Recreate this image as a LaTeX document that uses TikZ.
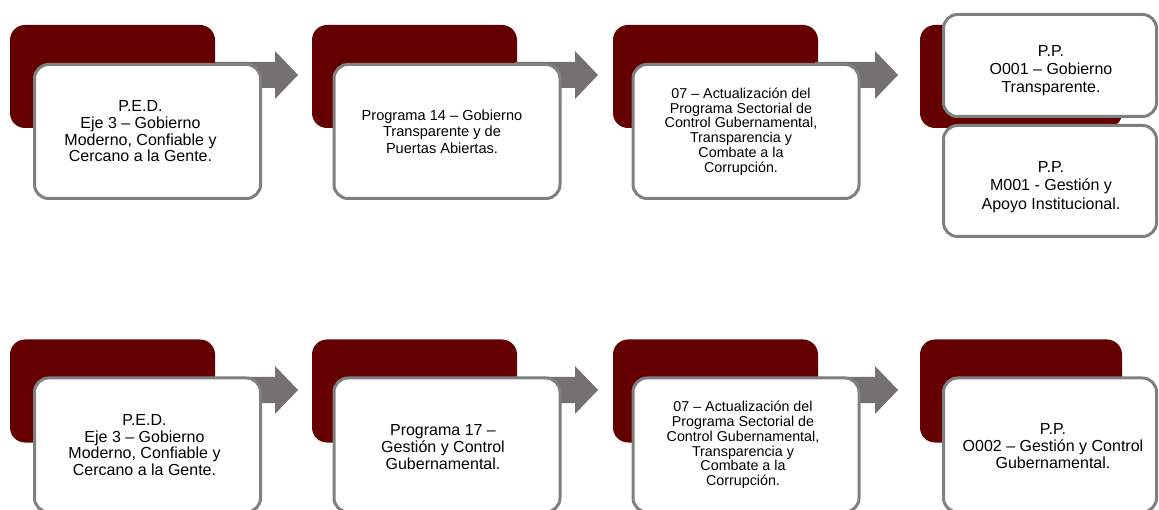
\documentclass[tikz,border=0pt]{standalone}
\usepackage{fontspec}
\setmainfont{Liberation Sans}
\definecolor{maroonbox}{HTML}{640000}
\definecolor{cardborder}{HTML}{808080}
\definecolor{arrowgrey}{HTML}{767171}
\begin{document}
\begin{tikzpicture}[x=1pt,y=-1pt,
  backbox/.style={fill=maroonbox, rounded corners=15pt, inner sep=0pt,
    minimum width=205pt, minimum height=103pt},
  card/.style={draw=cardborder, line width=3pt, fill=white, rounded corners=14pt,
    inner sep=0pt, minimum width=226pt, minimum height=134pt},
  txt/.style={align=center, inner sep=0pt},
  fa/.style={txt, font=\fontsize{16}{16.7}\selectfont},
  fb/.style={txt, font=\fontsize{14.6}{16.3}\selectfont},
  fc/.style={txt, font=\fontsize{14.3}{14.8}\selectfont},
  fd/.style={txt, font=\fontsize{16}{18.3}\selectfont},
  blockarrow/.pic={\fill[arrowgrey] (-83,-13) -- (-23,-13) -- (-23,-24) -- (0,0)
    -- (-23,24) -- (-23,13) -- (-83,13) -- cycle;}]
\useasboundingbox (0,0) rectangle (1159,510);
\clip (0,0) rectangle (1159,510);

% ---------- top row ----------
\node[backbox] (tb1) at (112.5,76.5) {};
\node[backbox] (tb2) at (414.5,76.5) {};
\node[backbox] (tb3) at (715.5,76.5) {};
\node[backbox, minimum width=202pt] (tb4) at (1021,76.5) {};
\pic at (298,75) {blockarrow};
\pic at (598,75) {blockarrow};
\pic at (898,75) {blockarrow};
\node[card] (tc1) at (147.5,131.5) {};
\node[card] (tc2) at (447,131.5) {};
\node[card] (tc3) at (746,131.5) {};
\node[card, minimum width=213pt, minimum height=102pt] (tc4) at (1050,65.5) {};
\node[card, minimum width=213pt, minimum height=111pt] (tc5) at (1050,181) {};
\node[fa] (tt1) at ([xshift=-7pt]tc1.center) {P.E.D.\\Eje 3 – Gobierno\\Moderno, Confiable y\\Cercano a la Gente.};
\node[fb] (tt2) at ([xshift=-5pt]tc2.center) {Programa 14 – Gobierno\\Transparente y de\\Puertas Abiertas.};
\node[fc] (tt3) at ([xshift=-5pt]tc3.center) {07 – Actualización del\\Programa Sectorial de\\Control Gubernamental,\\Transparencia y\\Combate a la\\Corrupción.};
\node[fd] (tt4) at ([xshift=1pt,yshift=-5pt]tc4.center) {P.P.\\O001 – Gobierno\\Transparente.};
\node[fd] (tt5) at ([xshift=1pt,yshift=-6pt]tc5.center) {P.P.\\M001 - Gestión y\\Apoyo Institucional.};

% ---------- bottom row ----------
\node[backbox] (bb1) at (112.5,391) {};
\node[backbox] (bb2) at (414.5,391) {};
\node[backbox] (bb3) at (715.5,391) {};
\node[backbox, minimum width=202pt] (bb4) at (1021,391) {};
\pic at (298,390) {blockarrow};
\pic at (598,390) {blockarrow};
\pic at (898,390) {blockarrow};
\node[card] (bc1) at (147.5,445) {};
\node[card] (bc2) at (447,445) {};
\node[card] (bc3) at (746,445) {};
\node[card, minimum width=213pt] (bc4) at (1050,445) {};
\node[fa] (bt1) at ([xshift=-3pt]bc1.center) {P.E.D.\\Eje 3 – Gobierno\\Moderno, Confiable y\\Cercano a la Gente.};
\node[fa] (bt2) at ([xshift=-4pt,yshift=-2pt]bc2.center) {Programa 17 –\\Gestión y Control\\Gubernamental.};
\node[fc] (bt3) at ([xshift=-3pt]bc3.center) {07 – Actualización del\\Programa Sectorial de\\Control Gubernamental,\\Transparencia y\\Combate a la\\Corrupción.};
\node[fa] (bt4) at ([xshift=3pt,yshift=-1pt]bc4.center) {P.P.\\O002 – Gestión y Control\\Gubernamental.};
\end{tikzpicture}
\end{document}
